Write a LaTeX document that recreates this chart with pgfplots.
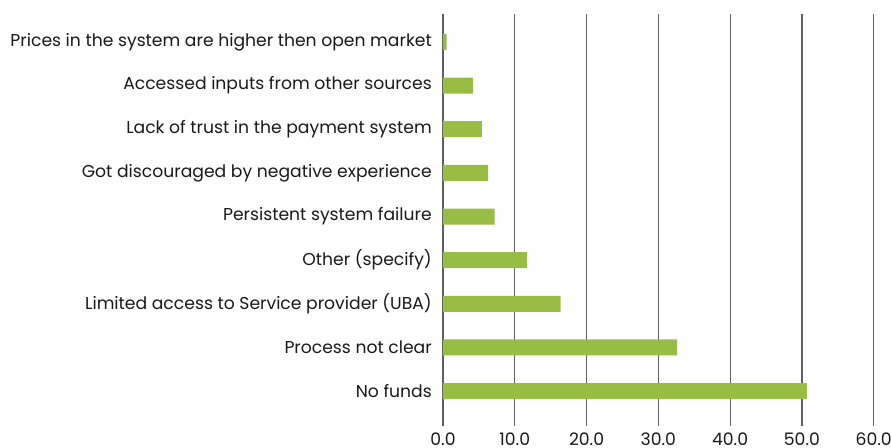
\documentclass[border=0pt]{standalone}
\usepackage{fontspec}
\setmainfont{Poppins}
\usepackage{pgfplots}
\pgfplotsset{compat=1.18}
\definecolor{bar}{RGB}{151,189,69}
\definecolor{grid}{RGB}{95,95,95}
\definecolor{txt}{RGB}{25,25,25}
\begin{document}
\fontsize{17.2bp}{20bp}\selectfont
\begin{tikzpicture}
\begin{axis}[
  scale only axis,
  width=430.7bp, height=412bp,
  xmin=0, xmax=60,
  ymin=-0.8, ymax=8.64,
  xbar, bar width=16bp,
  bar shift=0pt,
  axis line style={draw=none},
  xtick={0,10,20,30,40,50,60},
  xmajorgrids,
  major grid style={draw=grid, line width=1.2bp},
  major tick length=0pt,
  ytick={0,...,8},
  yticklabels={No funds, Process not clear, Limited access to Service provider (UBA), Other (specify), Persistent system failure, Got discouraged by negative experience, Lack of trust in the payment system, Accessed inputs from other sources, Prices in the system are higher then open market},
  yticklabel style={font=\fontsize{17.2bp}{20bp}\selectfont, text=txt, inner sep=0pt, xshift=-11bp},
  xticklabel style={font=\fontsize{17.2bp}{20bp}\selectfont, text=txt, inner sep=0pt, yshift=-7bp},
  /pgf/number format/assume math mode=true,
  xticklabel={\pgfmathprintnumber[fixed, fixed zerofill, precision=1]{\tick}},
  clip=false,
]
\addplot[fill=bar, draw=none] coordinates {
  (50.7,0) (32.6,1) (16.4,2) (11.7,3) (7.2,4) (6.3,5) (5.4,6) (4.2,7) (0.5,8)
};
\coordinate (ll) at (rel axis cs:0,0);
\coordinate (ur) at (rel axis cs:1,1);
\end{axis}
\pgfresetboundingbox
\useasboundingbox ([xshift=-443bp,yshift=-22bp]ll) rectangle ([xshift=17.3bp,yshift=14bp]ur);
\end{tikzpicture}
\end{document}
